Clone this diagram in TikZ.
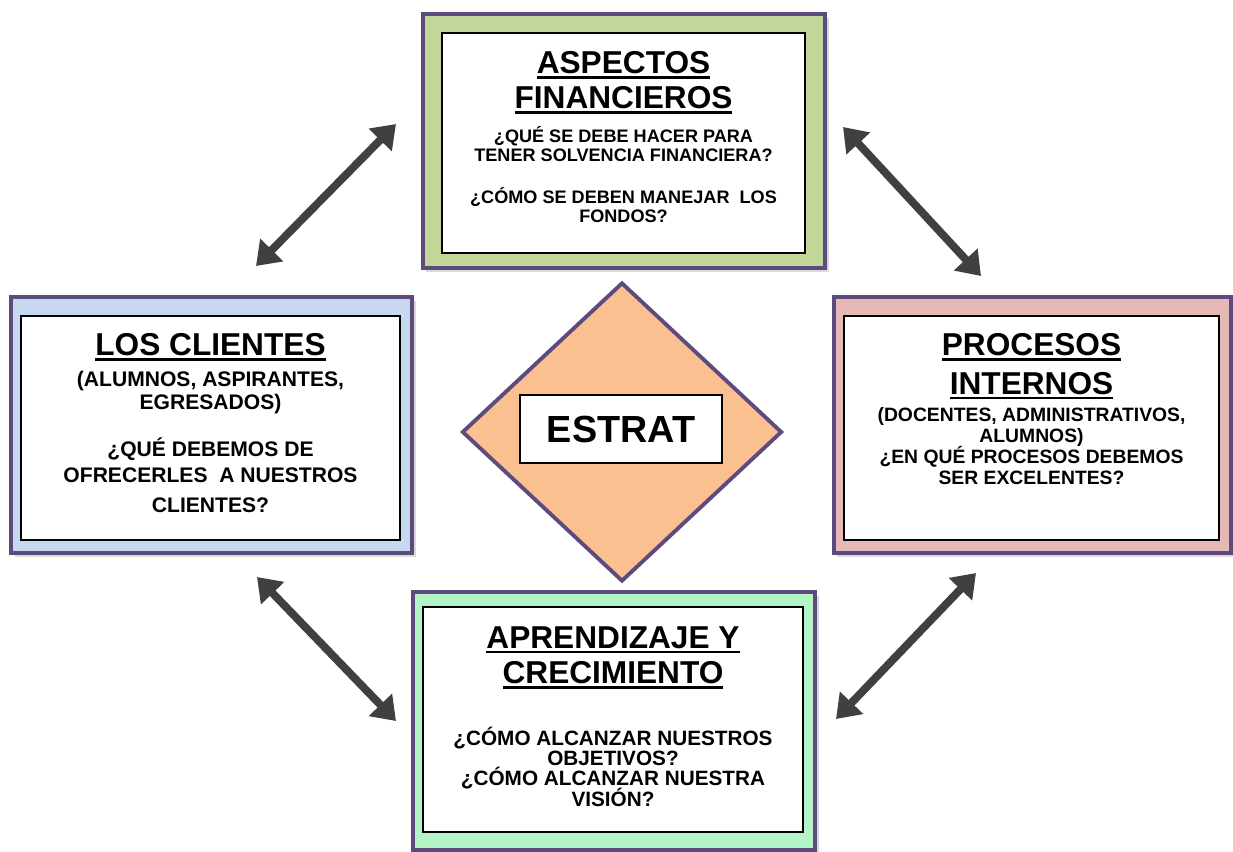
\documentclass[tikz,border=0pt]{standalone}
\usepackage{fontspec}
\setmainfont{Liberation Sans}
\usepackage{xcolor}
\usetikzlibrary{positioning,shapes.geometric,arrows.meta,shadows}
\definecolor{framepurple}{RGB}{94,75,126}
\definecolor{fingreen}{RGB}{196,215,155}
\definecolor{cliblue}{RGB}{198,217,241}
\definecolor{propink}{RGB}{230,185,184}
\definecolor{aprmint}{RGB}{180,245,200}
\definecolor{estrorange}{RGB}{250,192,144}
\definecolor{arrowgray}{RGB}{64,64,64}
\newcommand{\ttlul}[1]{\setbox0\hbox{#1}\rlap{\vrule height -0.07em depth 0.16em width \wd0}\box0}
\newcommand{\tightls}{\lineskiplimit -10pt\relax}
\tikzset{
  outerbox/.style = {shape=rectangle, draw=framepurple, line width=2.5pt,
                     drop shadow={shadow xshift=2pt, shadow yshift=-2pt, opacity=0.3}},
  innerbox/.style = {shape=rectangle, draw=black, line width=0.9pt, fill=white},
  ttl/.style      = {align=center, inner sep=0pt, anchor=north,
                     font=\bfseries\fontsize{18}{20}\selectfont},
  txt/.style      = {align=center, inner sep=0pt, anchor=north,
                     font=\bfseries\fontsize{10.3}{10.8}\selectfont\tightls},
  dblarrow/.style = {draw=arrowgray, line width=4.5pt,
                     {Triangle[length=0.45cm,width=0.62cm]}-{Triangle[length=0.45cm,width=0.62cm]}}
}
\begin{document}
\begin{tikzpicture}
  \useasboundingbox (0,0) rectangle (24.66,-17.04);

  \node [outerbox, fill=fingreen, minimum width=8.05cm, minimum height=5.08cm] (finOut) at (12.48,-2.82) {};
  \node [innerbox, minimum width=7.26cm, minimum height=4.40cm] (finIn) at (12.47,-2.86) {};
  \node [outerbox, fill=cliblue, minimum width=8.02cm, minimum height=5.12cm] (cliOut) at (4.23,-8.50) {};
  \node [innerbox, minimum width=7.58cm, minimum height=4.48cm] (cliIn) at (4.21,-8.56) {};
  \node [outerbox, fill=propink, minimum width=7.95cm, minimum height=5.12cm] (proOut) at (20.65,-8.50) {};
  \node [innerbox, minimum width=7.50cm, minimum height=4.48cm] (proIn) at (20.63,-8.56) {};
  \node [outerbox, fill=aprmint, minimum width=8.05cm, minimum height=5.16cm] (aprOut) at (12.28,-14.42) {};
  \node [innerbox, minimum width=7.60cm, minimum height=4.50cm] (aprIn) at (12.26,-14.39) {};

  \node [diamond, draw=framepurple, line width=2.2pt, fill=estrorange, inner sep=0pt,
         minimum width=6.4cm, minimum height=5.98cm] (estr) at (12.44,-8.64) {};
  \node [innerbox, minimum width=4.04cm, minimum height=1.36cm,
         font=\bfseries\fontsize{21.5}{24}\selectfont] (estrIn) at (12.42,-8.58) {ESTRAT};

  \node [ttl] (finT) at ([yshift=-0.38cm]finIn.north) {\ttlul{ASPECTOS}\\\ttlul{FINANCIEROS}};
  \node [txt] (finQ) at ([yshift=-1.87cm]finIn.north)
    {¿QUÉ SE DEBE HACER PARA\\TENER SOLVENCIA FINANCIERA?\\[13.6pt]¿CÓMO SE DEBEN MANEJAR\ \ LOS\\FONDOS?};

  \node [ttl] (cliT) at ([yshift=-0.36cm]cliIn.north) {\ttlul{LOS CLIENTES}};
  \node [txt, font=\bfseries\fontsize{12}{13}\selectfont\tightls] (cliQ) at ([yshift=-1.12cm]cliIn.north)
    {(ALUMNOS, ASPIRANTES,\\EGRESADOS)\\[13.6pt]¿QUÉ DEBEMOS DE\\[1.7pt]OFRECERLES\ \ A NUESTROS\\[4pt]CLIENTES?};

  \node [ttl, font=\bfseries\fontsize{18}{22}\selectfont] (proT) at ([yshift=-0.36cm]proIn.north)
    {\ttlul{PROCESOS}\\\ttlul{INTERNOS}};
  \node [txt, font=\bfseries\fontsize{11}{12}\selectfont\tightls] (proQ) at ([yshift=-1.84cm]proIn.north)
    {(DOCENTES, ADMINISTRATIVOS,\\ALUMNOS)\\¿EN QUÉ PROCESOS DEBEMOS\\SER EXCELENTES?};

  \node [ttl] (aprT) at ([yshift=-0.40cm]aprIn.north) {\ttlul{APRENDIZAJE Y}\\\ttlul{CRECIMIENTO}};
  \node [txt, font=\bfseries\fontsize{11.8}{11.5}\selectfont\tightls] (aprQ) at ([yshift=-2.41cm]aprIn.north)
    {¿CÓMO ALCANZAR NUESTROS\\OBJETIVOS?\\¿CÓMO ALCANZAR NUESTRA\\VISIÓN?};

  \coordinate (tlA) at (5.12,-5.32);
  \coordinate (tlB) at (7.92,-2.48);
  \coordinate (trA) at (16.86,-2.54);
  \coordinate (trB) at (19.62,-5.52);
  \coordinate (blA) at (5.14,-11.54);
  \coordinate (blB) at (7.92,-14.42);
  \coordinate (brA) at (16.72,-14.38);
  \coordinate (brB) at (19.52,-11.46);
  \draw [dblarrow] (tlA) -- (tlB);
  \draw [dblarrow] (trA) -- (trB);
  \draw [dblarrow] (blA) -- (blB);
  \draw [dblarrow] (brA) -- (brB);
\end{tikzpicture}
\end{document}
